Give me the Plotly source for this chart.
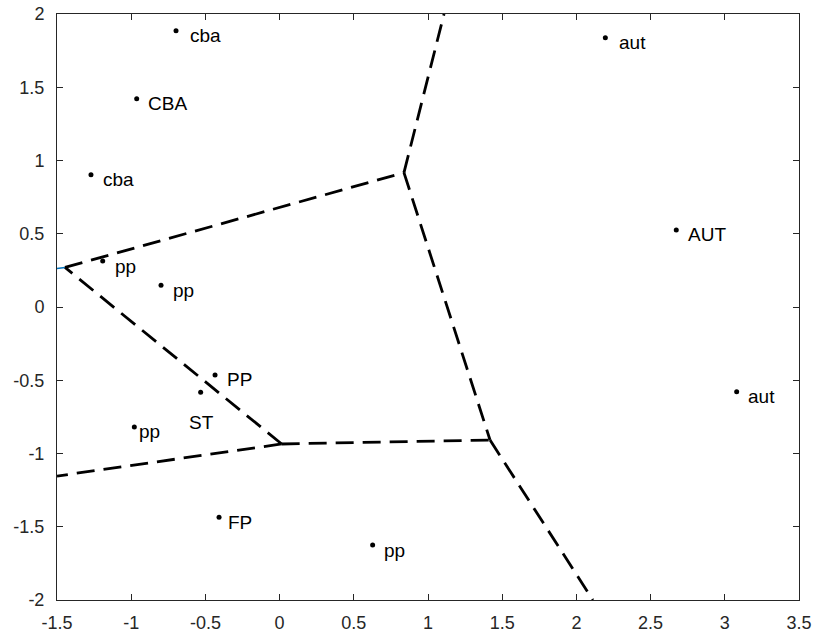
import plotly.graph_objects as go

# ---- data ----
point_x = [-0.698, -0.963, -1.271, -1.192, -0.799, -0.435, -0.532, -0.979, -0.408, 0.627, 2.195, 2.673, 3.080]
point_y = [1.886, 1.422, 0.903, 0.314, 0.148, -0.464, -0.582, -0.819, -1.436, -1.625, 1.838, 0.526, -0.578]
point_labels = ["cba", "CBA", "cba", "pp", "pp", "PP", "ST", "pp", "FP", "pp", "aut", "AUT", "aut"]

# Voronoi-like edges (each pair of lists is one segment)
edge_x = [
    [-1.446, 0.838],
    [0.838, 1.108],
    [0.838, 1.418],
    [0.014, -1.446],
    [0.014, 1.418],
    [0.014, -1.50],
    [1.418, 2.111],
]
edge_y = [
    [0.270, 0.917],
    [0.917, 2.000],
    [0.917, -0.908],
    [-0.935, 0.270],
    [-0.935, -0.908],
    [-0.935, -1.154],
    [-0.908, -2.000],
]
blue_x = [-1.60, -1.446]
blue_y = [0.250, 0.270]

x_ticks = [-1.5, -1, -0.5, 0, 0.5, 1, 1.5, 2, 2.5, 3, 3.5]
x_tick_labels = ["-1.5", "-1", "-0.5", "0", "0.5", "1", "1.5", "2", "2.5", "3", "3.5"]
y_ticks = [-2, -1.5, -1, -0.5, 0, 0.5, 1, 1.5, 2]
y_tick_labels = ["-2", "-1.5", "-1", "-0.5", "0", "0.5", "1", "1.5", "2"]

# label pixel offsets (style)
label_dx = [14, 11, 12, 12, 12, 12, -12, 5, 9, 11, 14, 12, 11]
label_dy = [-5, -5, -5, -5, -5, -5, -30, -5, -5, -5, -5, -5, -5]

FONT = "Liberation Sans, Arial, Helvetica, sans-serif"
AX = "#262626"

fig = go.Figure()

fig.add_trace(go.Scatter(x=blue_x, y=blue_y, mode="lines",
                         line=dict(color="#0072BD", width=1.5), showlegend=False, hoverinfo="skip"))

for ex, ey in zip(edge_x, edge_y):
    fig.add_trace(go.Scatter(x=ex, y=ey, mode="lines",
                             line=dict(color="black", width=2.8, dash="18px,9px"),
                             showlegend=False, hoverinfo="skip"))

fig.add_trace(go.Scatter(x=point_x, y=point_y, mode="markers",
                         marker=dict(color="black", size=5), showlegend=False))

for x, y, t, dx, dy in zip(point_x, point_y, point_labels, label_dx, label_dy):
    fig.add_annotation(x=x, y=y, text=t, showarrow=False, xanchor="left", yanchor="middle",
                       xshift=dx - 2, yshift=dy, font=dict(family=FONT, size=19, color="black"))

axis_common = dict(showline=True, linecolor=AX, linewidth=1, mirror="ticks",
                   ticks="inside", ticklen=6, tickcolor=AX, tickwidth=1,
                   showgrid=False, zeroline=False, automargin=False,
                   ticklabeloverflow="allow",
                   tickfont=dict(family=FONT, size=18, color=AX))

fig.update_xaxes(range=[-1.5, 3.5], tickvals=x_ticks, ticktext=x_tick_labels,
                 ticklabelstandoff=6, **axis_common)
fig.update_yaxes(range=[-2, 2], tickvals=y_ticks, ticktext=y_tick_labels,
                 ticklabelstandoff=8, **axis_common)

fig.update_layout(width=816, height=635, margin=dict(l=57, r=17, t=14, b=35),
                  plot_bgcolor="white", paper_bgcolor="white",
                  font=dict(family=FONT))

fig.write_html("out.html", config={"displayModeBar": False},
               post_script="document.body.style.margin='0px';document.body.style.overflow='hidden';")
